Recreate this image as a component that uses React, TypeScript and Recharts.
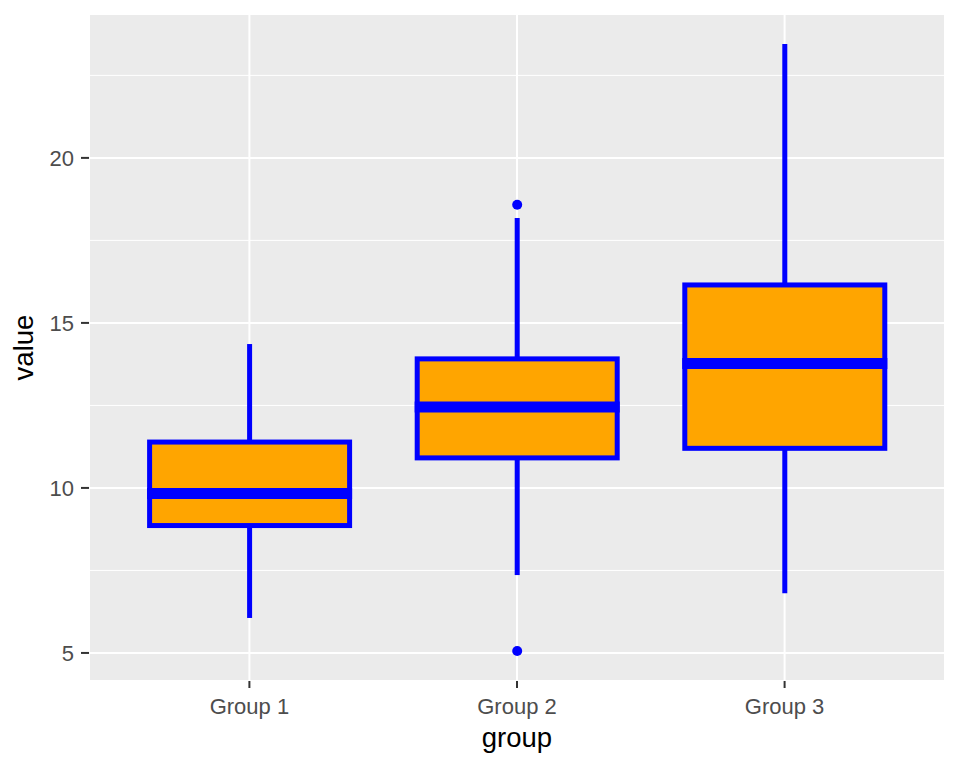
import React from 'react';
import { ComposedChart, Bar, XAxis, YAxis, CartesianGrid } from 'recharts';

const groups = ['Group 1', 'Group 2', 'Group 3'];
const whiskerLow = [6.06, 7.36, 6.81];
const q1 = [8.86, 10.91, 11.2];
const median = [9.83, 12.45, 13.77];
const q3 = [11.39, 13.91, 16.15];
const whiskerHigh = [14.36, 18.18, 23.45];
const outliers: number[][] = [[], [18.58, 5.06], []];

const yTicks = [5, 10, 15, 20];
const minorTicks = [7.5, 12.5, 17.5, 22.5];
const yDomain: [number, number] = [4.15, 24.36];

const data = groups.map((g, i) => ({
  group: g,
  lo: whiskerLow[i],
  q1: q1[i],
  med: median[i],
  q3: q3[i],
  hi: whiskerHigh[i],
  out: outliers[i],
}));

const FONT = '"Liberation Sans", Arial, sans-serif';
const BLUE = '#0000FF';
const ORANGE = '#FFA500';

const BoxShape = (props: any) => {
  const { x, y, width, height, payload } = props;
  const top = Math.min(y, y + height);
  const h = Math.abs(height);
  const { lo, hi } = payload;
  const toPx = (v: number) => top + ((hi - v) / (hi - lo)) * h;
  const cx = x + width / 2;
  const pHi = toPx(hi);
  const pQ3 = toPx(payload.q3);
  const pMed = toPx(payload.med);
  const pQ1 = toPx(payload.q1);
  const pLo = toPx(lo);
  return (
    <g>
      <line x1={cx} x2={cx} y1={pHi} y2={pQ3} stroke={BLUE} strokeWidth={5} />
      <line x1={cx} x2={cx} y1={pQ1} y2={pLo} stroke={BLUE} strokeWidth={5} />
      <rect x={x} y={pQ3} width={width} height={pQ1 - pQ3} fill={ORANGE} stroke={BLUE} strokeWidth={5} />
      <line x1={x - 2.5} x2={x + width + 2.5} y1={pMed} y2={pMed} stroke={BLUE} strokeWidth={11} />
      {(payload.out as number[]).map((v, k) => (
        <circle key={k} cx={cx} cy={toPx(v)} r={5} fill={BLUE} />
      ))}
    </g>
  );
};

const minorGen = (args: any) => {
  const yAxis = args && args.yAxis;
  if (yAxis && typeof yAxis.scale === 'function') {
    return minorTicks.map((v) => yAxis.scale(v));
  }
  const off = (args && args.offset) || { top: 14, height: 667 };
  return minorTicks.map((v) => off.top + (off.height * (yDomain[1] - v)) / (yDomain[1] - yDomain[0]));
};

export default function App() {
  return (
    <div style={{ position: 'absolute', left: 0, top: 0 }}>
      <ComposedChart width={960} height={768} data={data} margin={{ top: 14, right: 15, left: 0, bottom: 0 }}>
        <CartesianGrid
          fill="#EBEBEB"
          stroke="#FFFFFF"
          strokeWidth={1}
          vertical={false}
          horizontalCoordinatesGenerator={minorGen}
        />
        <CartesianGrid fill="none" stroke="#FFFFFF" strokeWidth={2} horizontal vertical />
        <XAxis
          dataKey="group"
          type="category"
          padding={{ left: 26.6, right: 26.6 }}
          axisLine={false}
          tickLine={{ stroke: '#333333', strokeWidth: 2 }}
          tickSize={7}
          tickMargin={10}
          height={87}
          tick={{ fill: '#4D4D4D', fontSize: 22, fontFamily: FONT }}
          label={{
            content: (p: any) => {
              const vb = p.viewBox || { x: 89, y: 681, width: 856, height: 87 };
              return (
                <text x={vb.x + vb.width / 2} y={747} textAnchor="middle" fontSize={27.5} fontFamily={FONT} fill="#000000">
                  group
                </text>
              );
            },
          }}
        />
        <YAxis
          type="number"
          domain={yDomain}
          allowDataOverflow
          ticks={yTicks}
          axisLine={false}
          tickLine={{ stroke: '#333333', strokeWidth: 2 }}
          tickSize={8}
          tickMargin={7}
          width={89}
          tick={{ fill: '#4D4D4D', fontSize: 22, fontFamily: FONT }}
          label={{
            content: (p: any) => {
              const vb = p.viewBox || { x: 0, y: 14, width: 89, height: 667 };
              const lx = 33;
              const ly = vb.y + vb.height / 2;
              return (
                <text x={lx} y={ly} transform={`rotate(-90, ${lx}, ${ly})`} textAnchor="middle" fontSize={27.5} fontFamily={FONT} fill="#000000">
                  value
                </text>
              );
            },
          }}
        />
        <Bar dataKey={(d: any) => [d.lo, d.hi]} barSize={200} shape={<BoxShape />} isAnimationActive={false} />
      </ComposedChart>
    </div>
  );
}
